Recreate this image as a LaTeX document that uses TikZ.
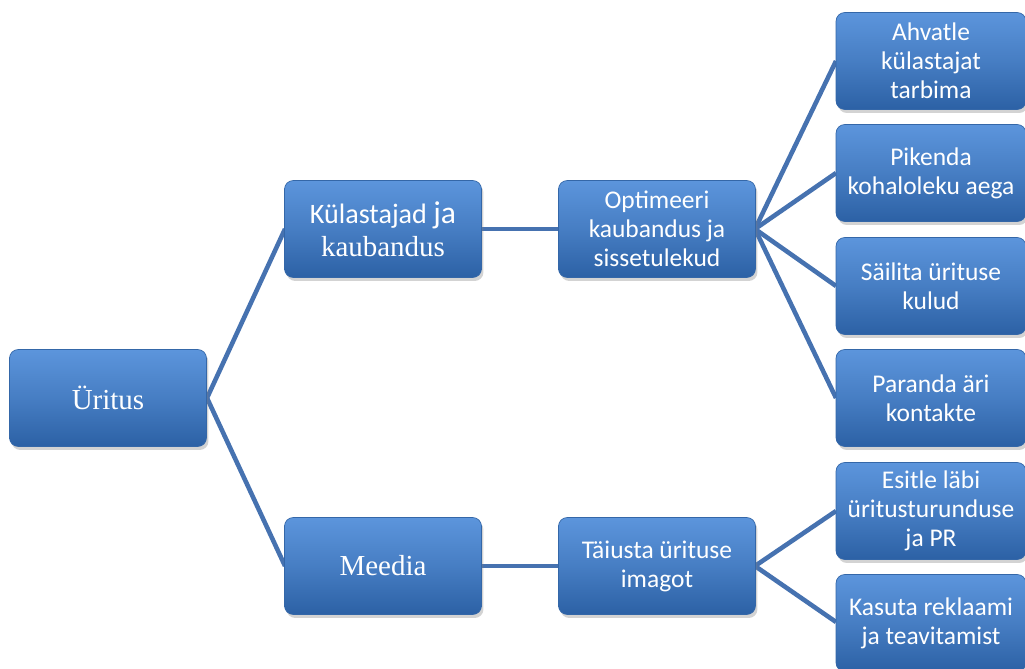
\documentclass[tikz,border=0pt]{standalone}
\usepackage{fontspec}
\setmainfont{Liberation Serif}
\newfontfamily\calib{Carlito}
\usepackage{tikz}
\usetikzlibrary{shadows,calc}

\definecolor{boxtop}{HTML}{5C95DC}
\definecolor{boxbot}{HTML}{2C61A5}
\definecolor{boxrim}{HTML}{3467A8}
\definecolor{linkblue}{HTML}{4672B0}

\begin{document}
\begin{tikzpicture}[x=0.02cm,y=-0.02cm]
\tikzset{
	box/.style = {rectangle, rounded corners = 5pt, draw = boxrim, line width = 0.4pt,
		top color = boxtop, bottom color = boxbot, middle color = boxtop!55!boxbot,
		text = white, align = center, inner sep = 2pt,
		minimum width = 3.94cm, minimum height = 1.94cm,
		drop shadow = {opacity = 0.35, shadow xshift = 0.04cm, shadow yshift = -0.07cm}},
	leaf box/.style = {box, minimum width = 3.8cm},
	sans text/.style = {font = \calib\fontsize{14.5}{16.5}\selectfont},
	serif text/.style = {font = \fontsize{16.5}{18}\selectfont},
	link/.style = {draw = linkblue, line width = 2.6pt},
}
\useasboundingbox (0,0) rectangle (1025,669);
% lines first, boxes on top
\coordinate (0r) at (207,398);
\coordinate (1r) at (482,229);
\coordinate (2r) at (482,566);
\coordinate (1-1r) at (755,229);
\coordinate (2-1r) at (755,566);

\draw[link] (0r) -- (285,229) (0r) -- (285,566);
\draw[link] (1r) -- (559,229);
\draw[link] (2r) -- (559,566);
\foreach \y in {61,173,286,398}
	\draw[link] (1-1r) -- (836,\y);
\foreach \y in {511,622}
	\draw[link] (2-1r) -- (836,\y);

\node(0)[box, serif text] at (108,398) {Üritus};
\node(1)[box, font = \fontsize{16.5}{19}\selectfont] at (383,229)
	{{\calib\fontsize{16}{19}\selectfont Külastajad {\fontsize{18}{19}\selectfont ja}}\\ kaubandus};
\node(2)[box, serif text] at (383,566) {Meedia};
\node(1-1)[box, sans text] at (657,229) {Optimeeri\\kaubandus ja\\sissetulekud};
\node(2-1)[box, sans text] at (657,566) {Täiusta ürituse\\imagot};

\node(1-1-1)[leaf box, sans text] at (931,61) {Ahvatle\\külastajat\\tarbima};
\node(1-1-2)[leaf box, sans text] at (931,173) {Pikenda\\kohaloleku aega};
\node(1-1-3)[leaf box, sans text] at (931,286) {Säilita ürituse\\kulud};
\node(1-1-4)[leaf box, sans text] at (931,398) {Paranda äri\\kontakte};
\node(2-1-1)[leaf box, sans text] at (931,511) {Esitle läbi\\üritusturunduse\\ja PR};
\node(2-1-2)[leaf box, sans text] at (931,623) {Kasuta reklaami\\ja teavitamist};
\end{tikzpicture}
\end{document}
